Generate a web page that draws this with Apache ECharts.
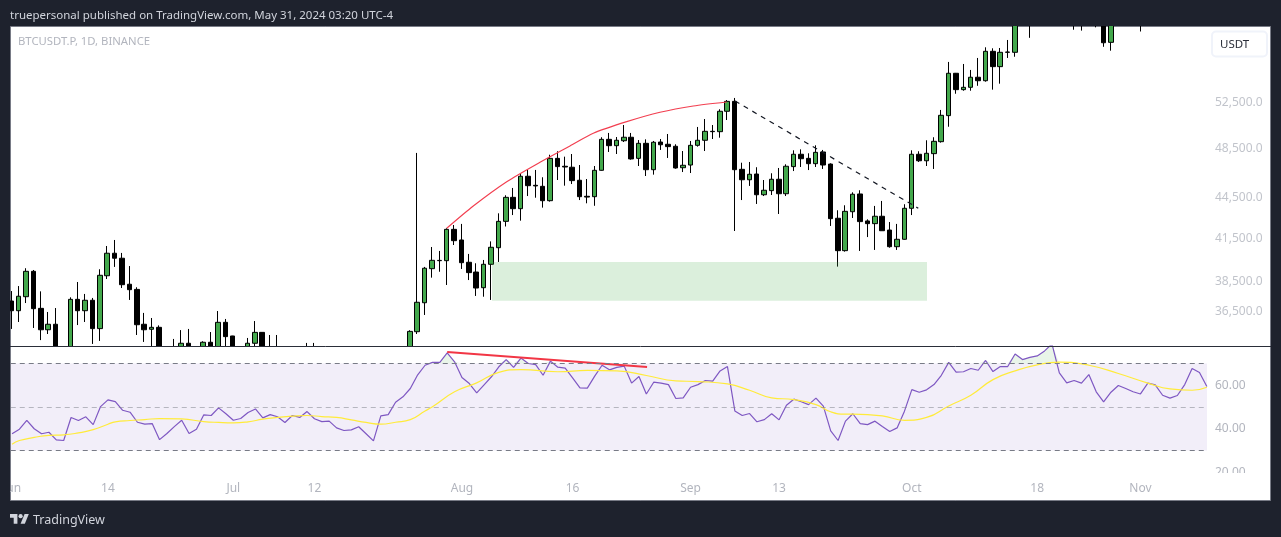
<!DOCTYPE html>
<html>
<head>
<meta charset="utf-8">
<title>BTCUSDT.P</title>
<script src="https://cdn.jsdelivr.net/npm/echarts@6/dist/echarts.min.js"></script>
<style>
    html, body { margin: 0; padding: 0; background: #1e222d; }
    #main { width: 1281px; height: 537px; }
</style>
</head>
<body>
<div id="main"></div>
<script>
// 数据 one entry per day
var opens = [37140,36520,37420,39110,36670,35330,35670,33700,33900,37250,36520,37190,35400,38810,40360,40010,38240,37900,35670,35360,35480,33900,33700,33900,34510,33900,34100,34570,34300,35790,34950,33900,33700,34510,35170,34000,34100,33900,33800,33900,33850,33950,33900,33800,33700,33300,33100,33200,33000,32500,32100,33600,33700,33900,34000,35210,37030,39290,39860,39840,42070,41300,39730,39060,38010,39590,40750,42660,44480,43610,46140,45420,45340,44220,47600,46950,46870,45820,44560,44530,46620,49200,48660,49080,49380,47600,48860,46670,48970,48780,48610,46830,47050,48690,49120,49890,49860,51660,52560,46700,45860,46320,44680,45000,45900,44760,46920,47940,47600,47160,48130,47130,42890,40540,43380,44740,42690,42490,43040,42020,40820,41350,43640,47940,47400,47990,49000,51270,55190,53640,53860,54810,54480,57340,55830,57240,57240,60500,60300,60700,61200,62000,64500,63000,61300,60800,61000,61100,60900,58240,60100,61000,60800,60500,60300,61500,61300,60300,60100,60500,61800,63800,63300];
var closes = [36520,37450,39110,36650,35330,35670,33700,33900,37250,36520,37190,35400,38840,40360,40010,38210,37880,35640,35330,35480,33900,33600,33900,34510,33900,34100,34570,34000,35790,34910,33900,33700,34510,35170,34000,34100,33900,33800,33900,33850,33950,33900,33800,33700,33300,33100,33200,33000,32500,32100,33600,33700,33900,34000,35230,37060,39320,39865,39840,42070,41250,39700,39020,37990,39590,40780,42660,44480,43610,46140,45390,45370,44220,47600,46920,46890,45790,44530,44500,46620,49200,48660,49120,49380,47550,48860,46670,48950,48740,48580,46810,47030,48690,49120,49890,49860,51660,52560,46670,45860,46300,44680,45030,45900,44760,46950,47940,47570,47160,48100,47050,42860,40540,43410,44720,42640,42490,43040,41970,40820,41350,43640,47940,47400,48020,49030,51300,55190,53640,53860,54810,54480,57340,55830,57240,57270,60500,60300,60700,61200,62000,64500,63000,61300,60800,61000,61100,60900,58200,60100,61000,60800,60500,60300,61500,61300,60300,60100,60500,61800,63800,63300,62000];
var lows = [35380,35810,37010,35440,34700,35070,33300,33200,33600,35620,35810,34470,34650,38590,39410,37990,37210,35010,34590,34200,33500,33000,33300,33700,33600,33500,33900,33800,34000,34200,33600,33200,33500,34300,33700,33700,33600,33400,33500,33500,33600,33500,33400,33300,33000,32800,32800,32700,32300,31900,32000,33300,33500,33600,33800,35070,36250,38680,39080,38190,40940,39270,38520,37470,37420,37210,39750,42280,43130,42710,44580,44450,43690,44150,45840,45390,45520,44270,44020,43830,46590,48130,47960,48970,47490,46970,46160,46270,48300,47630,46750,46480,46400,48580,48210,49230,49340,50880,41950,44270,45370,43970,44580,44660,43210,44580,46560,46890,46640,46890,46730,42320,39430,40470,42910,40520,41510,40590,41970,40750,40590,41320,43130,47300,46970,46730,48920,50290,53260,53540,53540,54000,54390,53640,54200,56680,56800,60000,58700,60300,60800,61800,62300,60600,59530,59440,60200,59780,57790,57400,59900,60300,60100,59350,60000,60800,60000,59900,59900,60200,61600,62800,61700];
var highs = [37790,38120,39320,39200,37770,36440,36690,34200,37380,38390,37600,37340,39250,40870,41300,40380,39470,38040,36380,36060,35600,34250,34770,35310,35380,34300,34630,35190,36500,36000,34960,34200,34830,35870,35180,35010,35010,34200,34250,34200,34530,34530,34200,34100,34000,33700,33600,33500,33300,32900,34000,34100,34200,34300,35300,48050,39410,40800,40520,42150,42390,42470,40310,39660,39890,41200,43260,44640,45210,46380,46650,46650,46060,47900,48190,47740,47960,47050,45920,46970,49380,49750,49400,50440,49750,49140,49200,49060,49230,49660,48780,48210,49060,50270,50970,50440,51840,52680,52870,47240,47300,46870,45840,46380,46810,47110,48270,48350,48020,48690,48300,47190,43490,43870,44870,45030,42810,43820,44200,42610,42470,43950,48270,48190,49120,49380,51780,56290,55220,56090,55510,56680,57740,57640,57670,58480,61000,61500,61400,61900,62500,65000,65200,63500,61700,61500,61800,61500,61000,60600,61400,61500,61300,61000,61800,62000,61700,60800,60900,62200,64200,64300,63600];

var rsi = [37.7,39.8,43.9,40.0,37.7,38.4,34.9,34.6,45.2,43.8,45.5,41.9,50.2,53.3,52.5,48.5,47.6,43.0,42.1,42.4,35.0,37.8,41.0,43.9,37.8,39.8,46.4,46.1,49.6,46.9,43.9,44.7,47.5,49.1,45.0,46.5,45.5,42.9,46.1,45.2,47.9,44.6,43.3,43.5,40.4,39.2,39.5,40.9,37.7,34.4,45.9,46.5,52.2,54.7,58.5,64.8,69.2,70.5,70.5,74.9,70.8,63.6,60.8,56.5,60.2,63.9,68.5,71.8,68.2,72.5,70.0,69.5,64.6,71.1,68.3,67.9,63.4,58.8,58.7,64.2,69.2,67.1,68.2,68.8,61.0,64.0,56.0,61.4,61.0,60.3,53.9,54.2,59.1,60.3,62.2,61.9,66.6,68.6,48.2,46.1,47.0,43.2,44.2,46.9,44.1,50.8,53.6,52.4,51.1,54.1,50.4,39.0,34.6,43.5,46.9,42.4,41.9,43.5,41.0,38.7,40.4,48.1,58.0,56.8,57.9,60.3,64.6,70.5,66.0,66.2,67.7,66.9,71.4,66.3,68.6,68.6,74.4,71.8,72.8,73.5,75.8,79.0,65.7,61.1,62.2,61.0,64.9,57.0,52.4,56.8,59.9,58.5,57.0,56.0,61.0,60.2,55.4,54.1,55.3,60.3,67.7,65.9,59.4];

// rsi 均线, read at a subset of days
var maDays = [0,1,3,5,7,9,11,13,14,16,18,20,23,26,28,30,32,34,36,38,40,42,44,46,48,50,52,54,56,57,60,63,66,69,74,78,82,86,90,93,97,100,103,106,109,111,113,114,118,121,124,127,130,133,136,139,142,146,150,154,157,160,162];
var maVals = [32.9,34.6,36.0,37.0,37.2,38.1,39.6,42.1,43.2,43.8,44.2,44.7,44.5,43.3,42.9,42.7,43.2,44.4,45.2,45.8,46.1,45.6,45.2,44.1,42.9,42.1,43.0,44.2,48.2,50.1,57.0,61.1,65.9,67.2,66.2,66.8,66.6,64.5,62.0,61.7,60.6,57.7,54.2,53.4,51.1,47.8,46.7,46.7,45.9,43.9,45.2,50.5,55.4,62.6,66.6,69.4,70.6,69.2,65.4,61.0,58.3,57.7,59.1];

// 画线 drawings
var arcDays = [59,62.6,67.13,71.64,75.7,78.86,83.39,87.9,92.41,96.94];
var arcPrices = [42150,43815,45705,47275,48635,49720,50733,51570,52138,52500];
var trendDays = [98.07,122.9];
var trendPrices = [52590,43640];
var zoneDays = [65.14,124.08];
var zonePrices = [39750,37160];
var divDays = [59,86.1];
var divRsi = [75.3,68.4];

// 坐标轴
var timeTicks = [0,13,30,41,61,76,92,104,122,139,153];
var timeLabels = ['Jun','14','Jul','12','Aug','16','Sep','13','Oct','18','Nov'];
var priceTicks = [36500,38500,41500,44500,48500,52500];
var rsiTicks = [20,40,60];

var labelColor = '#b2b5be';
var labelFont = 'Noto Sans';

function pairs(xs, ys) {
    return xs.map(function (x, i) { return [x, ys[i]]; });
}

var candles = opens.map(function (o, i) {
    return [i, o, closes[i], lows[i], highs[i]];
});

var myChart = echarts.init(document.getElementById('main'));

var option = {
    animation: false,
    backgroundColor: '#1e222d',
    grid: [
        { left: 10, top: 27, width: 1197, height: 319 },
        { left: 10, top: 346, width: 1197, height: 129 }
    ],
    xAxis: [
        { type: 'value', gridIndex: 0, min: -0.176, max: 162.02, show: false, splitLine: { show: false } },
        {
            type: 'value', gridIndex: 1, min: -0.176, max: 162.02,
            splitLine: { show: false },
            axisLine: { show: false },
            axisTick: { show: false },
            axisLabel: {
                customValues: timeTicks,
                margin: 8,
                color: labelColor,
                fontFamily: labelFont,
                fontSize: 12,
                formatter: function (v) { return timeLabels[timeTicks.indexOf(v)]; }
            }
        }
    ],
    yAxis: [
        {
            type: 'log', gridIndex: 0, position: 'right', logBase: 10,
            min: 34346, max: 59815,
            splitLine: { show: false },
            axisLine: { show: false },
            axisTick: { show: false },
            axisLabel: { show: false }
        },
        {
            type: 'value', gridIndex: 1, position: 'right',
            min: 18.74, max: 78.05,
            splitLine: { show: false },
            axisLine: { show: false },
            axisTick: { show: false },
            axisLabel: {
                customValues: rsiTicks,
                margin: 8,
                color: labelColor,
                fontFamily: labelFont,
                fontSize: 12,
                formatter: function (v) { return v.toFixed(2); }
            }
        }
    ],
    series: [
        {
            type: 'candlestick',
            xAxisIndex: 0,
            yAxisIndex: 0,
            z: 0.2,
            barWidth: 5,
            data: candles,
            itemStyle: {
                color: '#43a84c',
                color0: '#000000',
                borderColor: '#000000',
                borderColor0: '#000000',
                borderWidth: 1
            }
        },
        {
            // 价格刻度
            type: 'scatter',
            xAxisIndex: 0,
            yAxisIndex: 0,
            symbolSize: 0,
            clip: false,
            silent: true,
            data: priceTicks.map(function (p) { return [162.02, p]; }),
            label: {
                show: true,
                position: 'right',
                distance: 8,
                offset: [0, 1],
                color: labelColor,
                fontFamily: labelFont,
                fontSize: 12,
                formatter: function (p) {
                    return p.value[1].toLocaleString('en-US') + '.0';
                }
            }
        },
        {
            type: 'line',
            xAxisIndex: 0,
            yAxisIndex: 0,
            smooth: 0.25,
            symbol: 'none',
            silent: true,
            data: pairs(arcDays, arcPrices),
            lineStyle: { color: '#f23f50', width: 1.2 }
        },
        {
            type: 'line',
            xAxisIndex: 0,
            yAxisIndex: 0,
            symbol: 'none',
            silent: true,
            data: pairs(trendDays, trendPrices),
            lineStyle: { color: '#131722', width: 1.2, type: [5, 5] },
            markArea: {
                silent: true,
                itemStyle: { color: 'rgba(76,175,80,0.2)' },
                data: [[
                    { coord: [zoneDays[0], zonePrices[0]] },
                    { coord: [zoneDays[1], zonePrices[1]] }
                ]]
            }
        },
        {
            // 超买区域
            type: 'line',
            xAxisIndex: 1,
            yAxisIndex: 1,
            symbol: 'none',
            silent: true,
            data: rsi.map(function (v, i) { return [i, Math.max(v, 70)]; }),
            lineStyle: { width: 0 },
            areaStyle: { origin: 70, color: 'rgba(76,175,80,0.18)' }
        },
        {
            type: 'line',
            name: 'RSI',
            xAxisIndex: 1,
            yAxisIndex: 1,
            symbol: 'none',
            silent: true,
            data: rsi.map(function (v, i) { return [i, v]; }),
            lineStyle: { color: '#7e57c2', width: 1.2 },
            markArea: {
                silent: true,
                itemStyle: { color: 'rgba(126,87,194,0.1)' },
                data: [[{ yAxis: 30 }, { yAxis: 70 }]]
            },
            markLine: {
                silent: true,
                symbol: 'none',
                label: { show: false },
                data: [
                    { yAxis: 70, lineStyle: { color: '#787b86', type: [5, 4], width: 1 } },
                    { yAxis: 50, lineStyle: { color: 'rgba(120,123,134,0.5)', type: [5, 4], width: 1 } },
                    { yAxis: 30, lineStyle: { color: '#787b86', type: [5, 4], width: 1 } }
                ]
            }
        },
        {
            type: 'line',
            name: 'RSI MA',
            xAxisIndex: 1,
            yAxisIndex: 1,
            smooth: true,
            symbol: 'none',
            silent: true,
            data: pairs(maDays, maVals),
            lineStyle: { color: '#ffeb3b', width: 1.2 }
        },
        {
            type: 'line',
            xAxisIndex: 1,
            yAxisIndex: 1,
            symbol: 'none',
            silent: true,
            data: pairs(divDays, divRsi),
            lineStyle: { color: '#f23645', width: 2 }
        }
    ],
    graphic: [
        // 白色面板
        { type: 'rect', z: -1, shape: { x: 10.5, y: 26.5, width: 1260, height: 474 }, style: { fill: '#ffffff', stroke: '#787b86', lineWidth: 1 } },
        // 蜡烛不会被裁剪, cover what runs past the price pane
        { type: 'rect', z: 0.5, shape: { x: 11, y: 347, width: 1196, height: 60 }, style: { fill: '#ffffff' } },
        { type: 'rect', z: 50, shape: { x: 0, y: 0, width: 1281, height: 26 }, style: { fill: '#1e222d' } },
        { type: 'rect', z: 50, shape: { x: 0, y: 27, width: 10, height: 474 }, style: { fill: '#1e222d' } },
        { type: 'rect', z: 50, shape: { x: 1208, y: 473, width: 62, height: 9 }, style: { fill: '#ffffff' } },
        { type: 'line', z: 50, shape: { x1: 10, y1: 346.5, x2: 1271, y2: 346.5 }, style: { stroke: '#2a2e39', lineWidth: 1 } },
        // USDT 按钮
        { type: 'rect', z: 50, shape: { x: 1212, y: 31.5, width: 55, height: 25, r: 4 }, style: { fill: '#ffffff', stroke: '#f0f3fa', lineWidth: 2 } },
        { type: 'text', z: 51, x: 1220, y: 39, style: { text: 'USDT', fill: '#2a2e39', font: '11.5px "Noto Sans"' } },
        // 文字
        { type: 'text', z: 51, x: 10, y: 10, style: { text: 'truepersonal published on TradingView.com, May 31, 2024 03:20 UTC-4', fill: '#d1d4dc', font: '11.5px "Noto Sans"' } },
        { type: 'text', z: 51, x: 18, y: 36, style: { text: 'BTCUSDT.P, 1D, BINANCE', fill: labelColor, font: '11.3px "Noto Sans"' } },
        { type: 'text', z: 51, x: 33, y: 514, style: { text: 'TradingView', fill: '#d1d4dc', font: '12.5px "Noto Sans"' } },
        // logo
        {
            type: 'group', z: 51, x: 10, y: 512, scaleX: 0.53, scaleY: 0.53,
            children: [
                { type: 'polygon', z: 51, shape: { points: [[0, 4], [14, 4], [14, 22], [7, 22], [7, 11], [0, 11]] }, style: { fill: '#d1d4dc' } },
                { type: 'polygon', z: 51, shape: { points: [[20, 22], [27.5, 4], [35.5, 4], [28, 22]] }, style: { fill: '#d1d4dc' } },
                { type: 'circle', z: 51, shape: { cx: 20, cy: 8, r: 4 }, style: { fill: '#d1d4dc' } }
            ]
        }
    ]
};

myChart.setOption(option);
</script>
</body>
</html>
